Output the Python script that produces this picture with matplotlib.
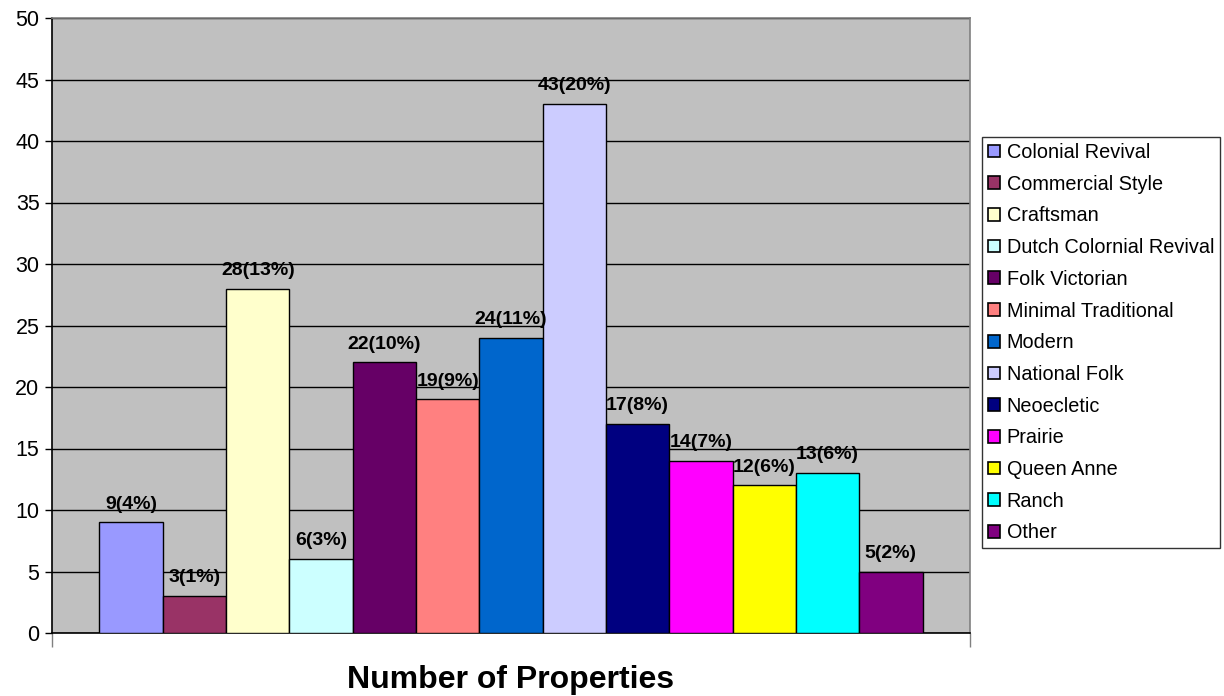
import matplotlib
matplotlib.use("Agg")
import matplotlib.pyplot as plt
from matplotlib.patches import Patch

plt.rcParams['font.family'] = ['Liberation Sans', 'DejaVu Sans']

styles = ["Colonial Revival", "Commercial Style", "Craftsman", "Dutch Colornial Revival",
          "Folk Victorian", "Minimal Traditional", "Modern", "National Folk",
          "Neoecletic", "Prairie", "Queen Anne", "Ranch", "Other"]
counts = [9, 3, 28, 6, 22, 19, 24, 43, 17, 14, 12, 13, 5]
percents = [4, 1, 13, 3, 10, 9, 11, 20, 8, 7, 6, 6, 2]
colors = ["#9999FF", "#993366", "#FFFFCC", "#CCFFFF", "#660066", "#FF8080", "#0066CC",
          "#CCCCFF", "#000080", "#FF00FF", "#FFFF00", "#00FFFF", "#800080"]
y_ticks = list(range(0, 51, 5))

fig = plt.figure(figsize=(12.24, 6.96), dpi=100)
ax = fig.add_axes([52 / 1224, 1 - 633 / 696, (970 - 52) / 1224, (633 - 18) / 696])
ax.set_facecolor("#C0C0C0")

positions = list(range(len(counts)))
ax.bar(positions, counts, width=1.0, color=colors, edgecolor="black", linewidth=1.0, zorder=3)

for x, c, p in zip(positions, counts, percents):
    ax.annotate(f"{c}({p}%)", xy=(x, c), xytext=(0, 7), textcoords="offset points",
                ha="center", va="bottom", fontsize=14, fontweight="bold", zorder=4)

ax.set_ylim(0, 50)
ax.set_xlim(-1.25, len(counts) - 1 + 1.25)
ax.set_yticks(y_ticks)
ax.yaxis.grid(True, color="black", linewidth=1.0, zorder=1)
ax.set_axisbelow(True)
ax.tick_params(axis="y", direction="out", length=5, width=1, labelsize=15.5, pad=4)
ax.set_xticks([-1.25, len(counts) - 1 + 1.25])
ax.set_xticklabels(["", ""])
ax.tick_params(axis="x", direction="out", length=10, width=1, color="#808080")

ax.spines["left"].set_color("black")
ax.spines["bottom"].set_color("black")
ax.spines["top"].set_color("#808080")
ax.spines["right"].set_color("#808080")
for s in ax.spines.values():
    s.set_linewidth(1.2)

fig.text(511 / 1224, 1 - 680 / 696, "Number of Properties", ha="center", va="center",
         fontsize=23, fontweight="bold")

handles = [Patch(facecolor=col, edgecolor="black", linewidth=1.2) for col in colors]
leg = fig.legend(handles, styles, loc="upper left",
                 bbox_to_anchor=(982 / 1224, 1 - 137 / 696), borderaxespad=0,
                 fontsize=14.3, frameon=True, fancybox=False, edgecolor="black",
                 handlelength=0.6, handleheight=0.6, handletextpad=0.35,
                 labelspacing=0.64, borderpad=0.3)
leg.get_frame().set_linewidth(1.0)

fig.savefig("out.png", dpi=100)
